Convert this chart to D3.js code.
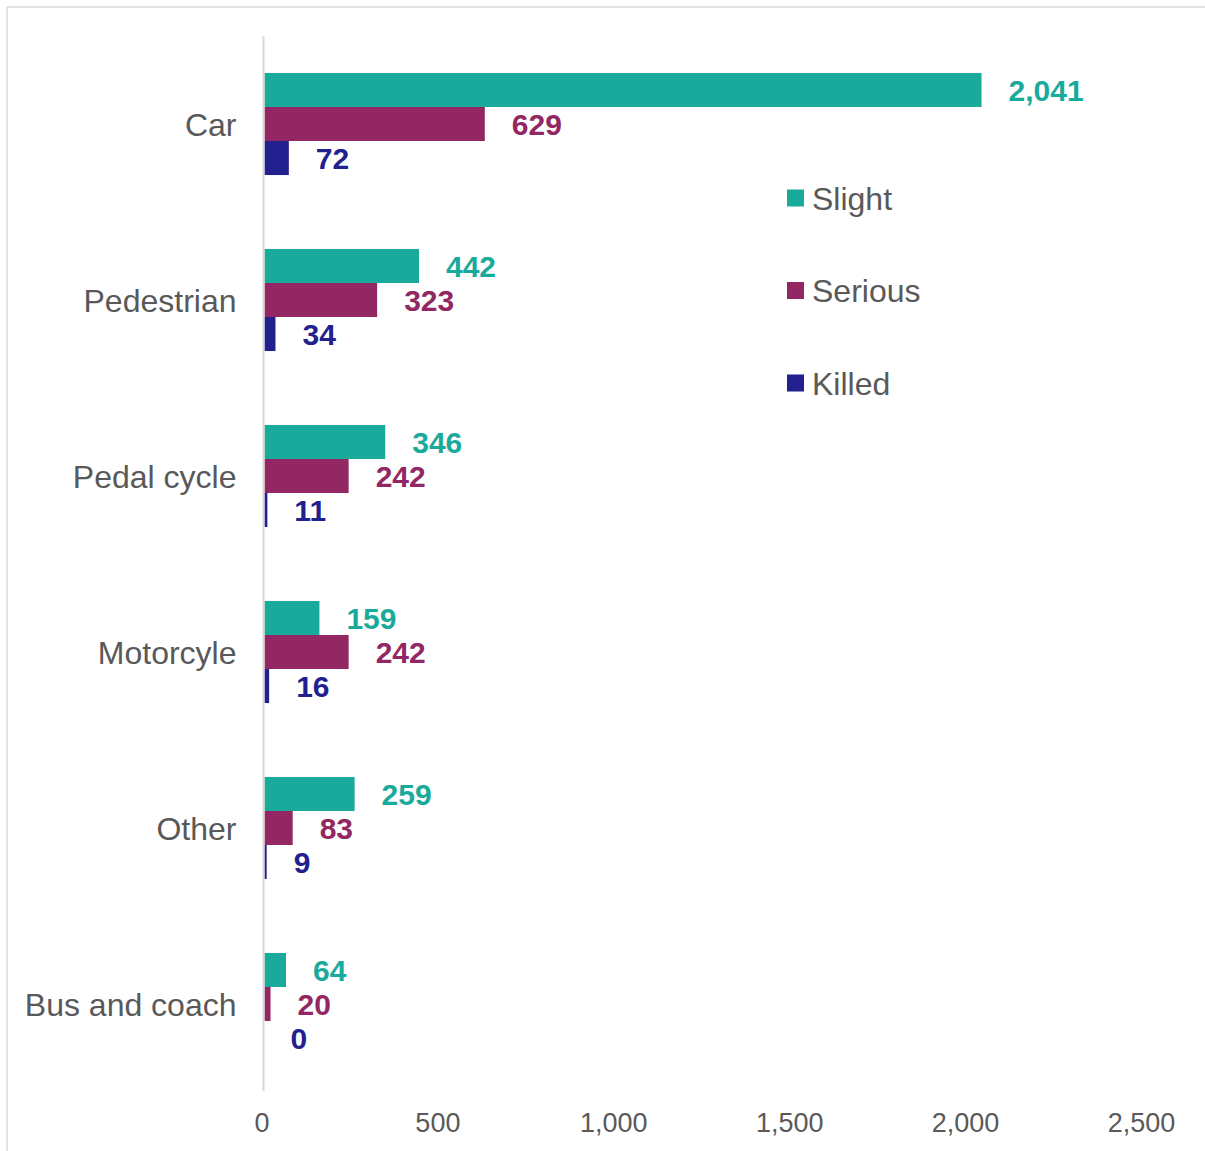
<!DOCTYPE html>
<html>
<head>
<meta charset="utf-8">
<script src="https://cdn.jsdelivr.net/npm/d3@7"></script>
<style>
  html, body { margin: 0; padding: 0; background: #fff; }
  svg { display: block; font-family: "Liberation Sans", Arial, sans-serif; }
</style>
</head>
<body>
<svg id="chart" width="1205" height="1151"></svg>
<script>
// Casualties by road user type and severity
const categories = ["Car", "Pedestrian", "Pedal cycle", "Motorcyle", "Other", "Bus and coach"];
const seriesNames = ["Slight", "Serious", "Killed"];
const slight  = [2041, 442, 346, 159, 259, 64];
const serious = [629, 323, 242, 242, 83, 20];
const killed  = [72, 34, 11, 16, 9, 0];
const tickValues = [0, 500, 1000, 1500, 2000, 2500];
const colors = ["#1aaa9b", "#922763", "#221f8f"];

const seriesValues = [slight, serious, killed];
const rows = categories.map((c, i) => ({
  category: c,
  values: seriesNames.map((s, j) => ({ series: s, value: seriesValues[j][i], color: colors[j] }))
}));

const svg = d3.select("#chart");
const textColor = "#595959";
const gridGrey = "#d9d9d9";

// outer frame
svg.append("line").attr("x1", 7).attr("x2", 1205).attr("y1", 7).attr("y2", 7)
  .attr("stroke", gridGrey).attr("stroke-width", 1.5);
svg.append("line").attr("x1", 7).attr("x2", 7).attr("y1", 7).attr("y2", 1151)
  .attr("stroke", gridGrey).attr("stroke-width", 1.5);

const x = d3.scaleLinear().domain([0, 2500]).range([263.5, 1143]);
const y = d3.scaleBand().domain(categories).range([36, 1092])
  .paddingInner(0.42).paddingOuter(0.21);
const ySub = d3.scaleBand().domain(seriesNames).range([0, y.bandwidth()]);

// bars
const groups = svg.append("g").selectAll("g").data(rows).join("g")
  .attr("transform", d => `translate(0,${y(d.category)})`);

groups.selectAll("rect").data(d => d.values).join("rect")
  .attr("x", x(0) + 1)
  .attr("y", d => ySub(d.series))
  .attr("width", d => Math.max(0, x(d.value) - x(0) - 1))
  .attr("height", ySub.bandwidth())
  .attr("fill", d => d.color);

// value labels
const fmt = d3.format(",");
groups.selectAll("text").data(d => d.values).join("text")
  .attr("x", d => x(d.value) + 27)
  .attr("y", d => ySub(d.series) + ySub.bandwidth() / 2)
  .attr("dy", "0.36em")
  .attr("fill", d => d.color)
  .attr("font-size", 30)
  .attr("font-weight", "bold")
  .text(d => fmt(d.value));

// vertical axis line
svg.append("line")
  .attr("x1", x(0)).attr("x2", x(0))
  .attr("y1", 36).attr("y2", 1091)
  .attr("stroke", gridGrey).attr("stroke-width", 2);

// category labels
const yAxis = svg.append("g").attr("transform", `translate(${x(0)},0)`)
  .call(d3.axisLeft(y).tickSize(0).tickPadding(27));
yAxis.select(".domain").remove();
yAxis.selectAll("text")
  .attr("font-size", 32).attr("fill", textColor)
  .attr("font-family", "Liberation Sans, Arial, sans-serif")
  .attr("dy", "0.36em");

// horizontal value axis (labels only)
const xAxis = svg.append("g").attr("transform", "translate(-2,1122)")
  .call(d3.axisBottom(x).tickValues(tickValues).tickFormat(d3.format(",")).tickSize(0).tickPadding(0));
xAxis.select(".domain").remove();
xAxis.selectAll("text")
  .attr("font-size", 27).attr("fill", textColor)
  .attr("font-family", "Liberation Sans, Arial, sans-serif")
  .attr("dy", "0.36em");

// legend
const legend = svg.append("g").selectAll("g").data(seriesNames).join("g")
  .attr("transform", (d, i) => `translate(787,${198 + i * 92.5})`);
legend.append("rect")
  .attr("x", 0).attr("y", -8.5).attr("width", 17).attr("height", 17)
  .attr("fill", (d, i) => colors[i]);
legend.append("text")
  .attr("x", 25).attr("y", 0).attr("dy", "0.36em")
  .attr("font-size", 32).attr("fill", textColor)
  .text(d => d);
</script>
</body>
</html>
